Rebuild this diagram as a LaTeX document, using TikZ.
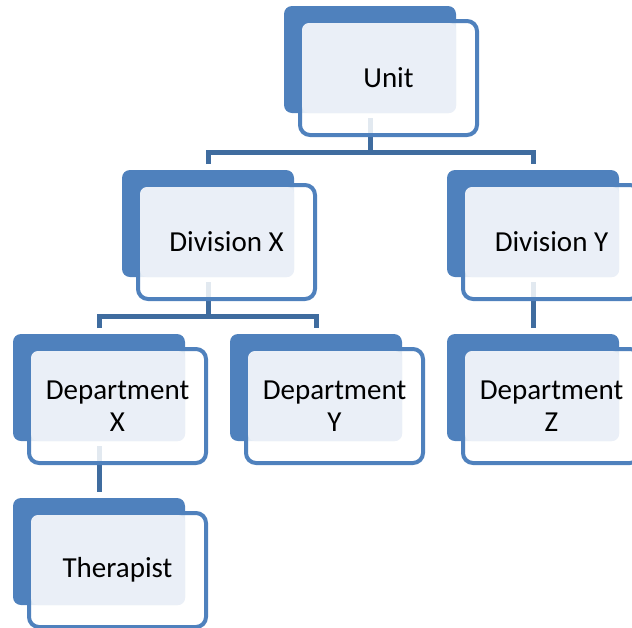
\documentclass[tikz,border=0pt]{standalone}
\usepackage{fontspec}
\setmainfont{Carlito}
\usetikzlibrary{calc}

\definecolor{accent}{HTML}{4F81BD}
\definecolor{paneltint}{HTML}{EAEFF7}
\definecolor{linkblue}{HTML}{3F6C9F}

\pgfdeclarelayer{background}
\pgfsetlayers{background,main}

\tikzset{
  backplate/.style={fill=accent, draw=none, rounded corners=8pt,
    minimum width=172pt, minimum height=107pt, inner sep=0pt, outer sep=0pt,
    anchor=north west},
  frameplate/.style={draw=accent, line width=4pt, fill=white, fill opacity=0.85,
    rounded corners=10pt, minimum width=177pt, minimum height=114pt,
    inner sep=0pt, outer sep=0pt, anchor=north west},
  tintplate/.style={fill=paneltint, draw=none, rounded corners=7pt,
    minimum width=154pt, minimum height=90pt, inner sep=0pt, outer sep=0pt,
    anchor=north west},
  caption/.style={font=\fontsize{29}{32}\selectfont, align=center, text=black,
    inner sep=0pt},
  link/.style={draw=linkblue, line width=5pt},
}

% one org-chart box: name, left, top, text
\newcommand\orgbox[4]{%
  \node[backplate]  (#1-back)  at (#2,#3) {};
  \node[frameplate] (#1-frame) at (#2+16,#3+15) {};
  \node[tintplate]  (#1-tint)  at (#2+18,#3+17) {};
  \node[caption]    (#1-text)  at (#1-frame.center) {#4};
}

\begin{document}
\begin{tikzpicture}[x=1pt, y=-1pt]
  \clip (0,0) rectangle (632,627);

  \orgbox{unit}{284}{6}{Unit}
  \orgbox{divx}{122}{170}{Division X}
  \orgbox{divy}{447}{170}{Division Y}
  \orgbox{depx}{13}{334}{Department\\X}
  \orgbox{depy}{230}{334}{Department\\Y}
  \orgbox{depz}{447}{334}{Department\\Z}
  \orgbox{ther}{13}{498}{Therapist}

  % connector bus levels and drop points
  \coordinate (busA) at (0,152);
  \coordinate (busB) at (0,316);
  \foreach \n in {divx,divy,depx,depy,depz,ther}
    \coordinate (\n-drop) at ($(\n-back.north)+(0,-6)$);
  \foreach \n in {unit,divx,divy,depx}
    \coordinate (\n-tap) at ($(\n-back.south)+(0,5)$);

  \begin{pgfonlayer}{background}
    % Unit -> Division X / Division Y
    \draw[link] (unit-tap) -- (unit-tap |- busA);
    \draw[link] (divx-drop) |- (unit-tap |- busA) -| (divy-drop);
    % Division X -> Department X / Department Y
    \draw[link] (divx-tap) -- (divx-tap |- busB);
    \draw[link] (depx-drop) |- (divx-tap |- busB) -| (depy-drop);
    % Division Y -> Department Z
    \draw[link] (divy-tap) -- (depz-drop);
    % Department X -> Therapist
    \draw[link] (depx-tap) -- (ther-drop);
  \end{pgfonlayer}
\end{tikzpicture}
\end{document}
